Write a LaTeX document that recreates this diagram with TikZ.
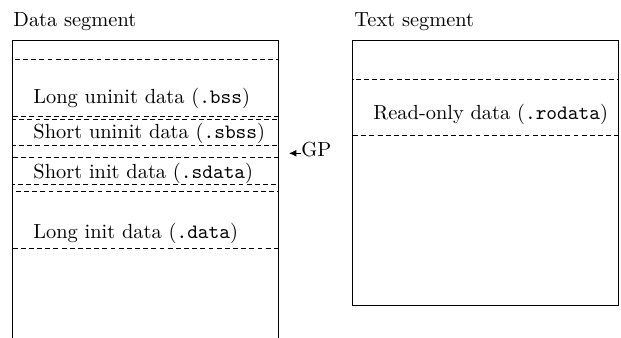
\documentclass[tikz,border=0pt]{standalone}
\usetikzlibrary{arrows.meta}
\begin{document}
\begin{tikzpicture}[x=0.49pt,y=-0.49pt,
  lbl/.style={anchor=base west,inner sep=0pt,font=\normalsize},
  seg/.style={draw,line width=0.45pt},
  sec/.style={draw,dash pattern=on 2.4pt off 1.6pt,line width=0.45pt}]
\useasboundingbox (0,0) rectangle (621,338);
% titles
\node[lbl] (dtitle) at (13,26.7) {Data segment};
\node[lbl] (ttitle) at (354,26.7) {Text segment};
% data segment (open at the bottom)
\draw[seg] (12.5,338) -- (12.5,40) -- (278,40) -- (278,338);
% text segment
\draw[seg] (352.5,40) rectangle (618.5,305.5);
% sections
\draw[sec] (12.5,59.5) rectangle (278,116);
\draw[sec] (12.5,119.5) rectangle (278,145.5);
\draw[sec] (12.5,157) rectangle (278,184);
\draw[sec] (12.5,191) rectangle (278,248);
\draw[sec] (352.5,79) rectangle (618.5,135.5);
% labels
\node[lbl] (bss) at (33,104) {Long uninit data (\texttt{.bss})};
\node[lbl] (sbss) at (33,139) {Short uninit data (\texttt{.sbss})};
\node[lbl] (sdata) at (33,178.3) {Short init data (\texttt{.sdata})};
\node[lbl] (data) at (33,238.3) {Long init data (\texttt{.data})};
\node[lbl] (rodata) at (373,119.3) {Read-only data (\texttt{.rodata})};
% GP pointer
\node[lbl] (gp) at (301,157) {GP};
\coordinate (gptip) at (289,153.3);
\draw[-{Latex[length=3.6pt,width=3.4pt]},line width=0.45pt] (gp.west |- gptip) -- (gptip);
\end{tikzpicture}
\end{document}
